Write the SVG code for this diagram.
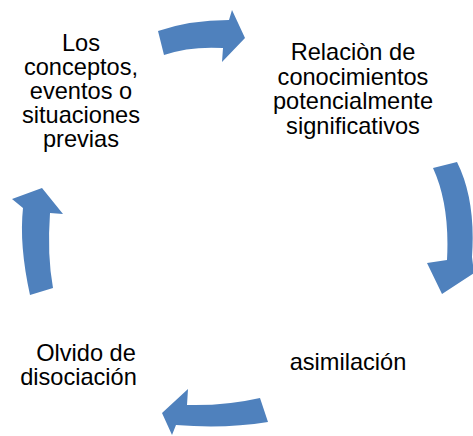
<svg xmlns="http://www.w3.org/2000/svg" width="473" height="436" viewBox="0 0 473 436">
<style>
.arrow{fill:#4F81BD;stroke:none}
.t{font-family:"Liberation Sans",Arial,sans-serif;font-size:23.6px;fill:#000;text-anchor:middle}
</style>
<rect width="473" height="436" fill="#fff"/>
<g id="connectors">
<path class="arrow" d="M158,31 Q190,20 229,20 L232,10 L245,38 L222,62 L223,48 Q190,46 164,55 Z"/>
<path class="arrow" d="M433,168 L457,162 Q476,200 472,257 L474,273 L442,294 L427,263 L447,260 Q450,205 433,168 Z"/>
<path class="arrow" d="M260,398 Q225,406 187,405 L188,389 L162,413 L172,435 L176,425 Q225,429 268,422 Z"/>
<path class="arrow" d="M30,295 Q19,245 23,208 L12,199 L42,188 L63,214 L50,213 Q47,255 53,288 Z"/>
</g>
<g id="node1">
<text class="t" x="81" y="51">Los</text>
<text class="t" x="81" y="75">conceptos,</text>
<text class="t" x="81" y="99">eventos o</text>
<text class="t" x="81" y="123">situaciones</text>
<text class="t" x="81" y="147">previas</text>
</g>
<g id="node2">
<text class="t" x="353" y="60">Relaciòn de</text>
<text class="t" x="353" y="84.5">conocimientos</text>
<text class="t" x="353" y="109">potencialmente</text>
<text class="t" x="353" y="133.5">significativos</text>
</g>
<g id="node3">
<text class="t" x="348" y="370">asimilación</text>
</g>
<g id="node4">
<text class="t" x="86" y="361">Olvido de</text>
<text class="t" x="78.5" y="385">disociación</text>
</g>
</svg>
